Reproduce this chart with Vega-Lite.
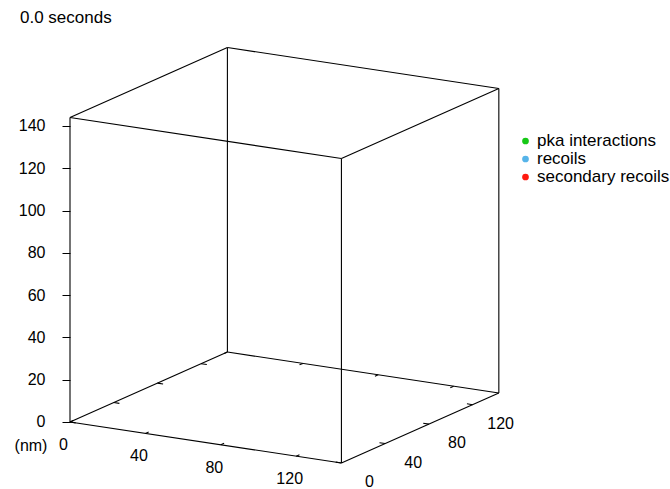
{
  "$schema": "https://vega.github.io/schema/vega-lite/v6.json",
  "width": 600,
  "height": 459,
  "autosize": {"type": "none"},
  "padding": {"left": 70, "top": 30, "right": 0, "bottom": 0},
  "background": "white",
  "title": {
    "text": "0.0 seconds",
    "anchor": "start",
    "frame": "group",
    "dx": -50,
    "dy": 17,
    "offset": 7,
    "baseline": "alphabetic",
    "fontSize": 17,
    "fontWeight": "normal",
    "font": "Liberation Sans",
    "color": "black"
  },
  "datasets": {
    "segments": [
      {"x1": 0, "y1": 0, "z1": 0, "x2": 144, "y2": 0, "z2": 0},
      {"x1": 144, "y1": 0, "z1": 0, "x2": 144, "y2": 144, "z2": 0},
      {"x1": 144, "y1": 144, "z1": 0, "x2": 0, "y2": 144, "z2": 0},
      {"x1": 0, "y1": 144, "z1": 0, "x2": 0, "y2": 0, "z2": 0},
      {"x1": 0, "y1": 0, "z1": 144, "x2": 144, "y2": 0, "z2": 144},
      {"x1": 144, "y1": 0, "z1": 144, "x2": 144, "y2": 144, "z2": 144},
      {"x1": 144, "y1": 144, "z1": 144, "x2": 0, "y2": 144, "z2": 144},
      {"x1": 0, "y1": 144, "z1": 144, "x2": 0, "y2": 0, "z2": 144},
      {"x1": 0, "y1": 0, "z1": 0, "x2": 0, "y2": 0, "z2": 144},
      {"x1": 144, "y1": 0, "z1": 0, "x2": 144, "y2": 0, "z2": 144},
      {"x1": 144, "y1": 144, "z1": 0, "x2": 144, "y2": 144, "z2": 144},
      {"x1": 0, "y1": 144, "z1": 0, "x2": 0, "y2": 144, "z2": 144},
      {"x1": 0, "y1": 0, "z1": 0, "x2": 0, "y2": 3, "z2": 0},
      {"x1": 40, "y1": 0, "z1": 0, "x2": 40, "y2": 3, "z2": 0},
      {"x1": 80, "y1": 0, "z1": 0, "x2": 80, "y2": 3, "z2": 0},
      {"x1": 120, "y1": 0, "z1": 0, "x2": 120, "y2": 3, "z2": 0},
      {"x1": 0, "y1": 144, "z1": 0, "x2": 0, "y2": 141, "z2": 0},
      {"x1": 40, "y1": 144, "z1": 0, "x2": 40, "y2": 141, "z2": 0},
      {"x1": 80, "y1": 144, "z1": 0, "x2": 80, "y2": 141, "z2": 0},
      {"x1": 120, "y1": 144, "z1": 0, "x2": 120, "y2": 141, "z2": 0},
      {"x1": 0, "y1": 0, "z1": 0, "x2": 3, "y2": 0, "z2": 0},
      {"x1": 0, "y1": 40, "z1": 0, "x2": 3, "y2": 40, "z2": 0},
      {"x1": 0, "y1": 80, "z1": 0, "x2": 3, "y2": 80, "z2": 0},
      {"x1": 0, "y1": 120, "z1": 0, "x2": 3, "y2": 120, "z2": 0},
      {"x1": 144, "y1": 0, "z1": 0, "x2": 141, "y2": 0, "z2": 0},
      {"x1": 144, "y1": 40, "z1": 0, "x2": 141, "y2": 40, "z2": 0},
      {"x1": 144, "y1": 80, "z1": 0, "x2": 141, "y2": 80, "z2": 0},
      {"x1": 144, "y1": 120, "z1": 0, "x2": 141, "y2": 120, "z2": 0}
    ],
    "xlabels": [
      {"x": 0, "y": 0, "z": 0, "label": "0"},
      {"x": 40, "y": 0, "z": 0, "label": "40"},
      {"x": 80, "y": 0, "z": 0, "label": "80"},
      {"x": 120, "y": 0, "z": 0, "label": "120"}
    ],
    "ylabels": [
      {"x": 144, "y": 0, "z": 0, "label": "0"},
      {"x": 144, "y": 40, "z": 0, "label": "40"},
      {"x": 144, "y": 80, "z": 0, "label": "80"},
      {"x": 144, "y": 120, "z": 0, "label": "120"}
    ],
    "unit": [
      {"x": 0, "y": 0, "z": 0, "label": "(nm)"}
    ],
    "events": []
  },
  "layer": [
    {
      "data": {"name": "segments"},
      "transform": [
        {"calculate": "0.8915*datum.x1 + 0.5170*datum.y1", "as": "h1"},
        {"calculate": "datum.z1 - 0.13466*datum.x1 + 0.22986*datum.y1", "as": "v1"},
        {"calculate": "0.8915*datum.x2 + 0.5170*datum.y2", "as": "h2"},
        {"calculate": "datum.z2 - 0.13466*datum.x2 + 0.22986*datum.y2", "as": "v2"}
      ],
      "mark": {"type": "rule", "color": "black", "strokeWidth": 1.1},
      "encoding": {
        "x": {"field": "h1", "type": "quantitative", "scale": {"domain": [0, 283.78], "nice": false, "zero": false}, "axis": null},
        "y": {
          "field": "v1",
          "type": "quantitative",
          "scale": {"domain": [-31.69, 185.40], "nice": false, "zero": false},
          "axis": {
            "values": [0, 20, 40, 60, 80, 100, 120, 140],
            "title": null,
            "domain": false,
            "grid": false,
            "tickSize": 8,
            "tickColor": "black",
            "tickWidth": 1,
            "labelPadding": 17,
            "labelFontSize": 16,
            "labelFont": "Liberation Sans",
            "labelColor": "black"
          }
        },
        "x2": {"field": "h2"},
        "y2": {"field": "v2"}
      }
    },
    {
      "data": {"name": "xlabels"},
      "transform": [
        {"calculate": "0.8915*datum.x + 0.5170*datum.y", "as": "h1"},
        {"calculate": "datum.z - 0.13466*datum.x + 0.22986*datum.y", "as": "v1"}
      ],
      "mark": {"type": "text", "dx": -6.5, "dy": 23, "fontSize": 16, "font": "Liberation Sans", "color": "black", "align": "center", "baseline": "middle"},
      "encoding": {
        "x": {"field": "h1", "type": "quantitative"},
        "y": {"field": "v1", "type": "quantitative"},
        "text": {"field": "label"}
      }
    },
    {
      "data": {"name": "ylabels"},
      "transform": [
        {"calculate": "0.8915*datum.x + 0.5170*datum.y", "as": "h1"},
        {"calculate": "datum.z - 0.13466*datum.x + 0.22986*datum.y", "as": "v1"}
      ],
      "mark": {"type": "text", "dx": 28, "dy": 19, "fontSize": 16, "font": "Liberation Sans", "color": "black", "align": "center", "baseline": "middle"},
      "encoding": {
        "x": {"field": "h1", "type": "quantitative"},
        "y": {"field": "v1", "type": "quantitative"},
        "text": {"field": "label"}
      }
    },
    {
      "data": {"name": "unit"},
      "transform": [
        {"calculate": "0.8915*datum.x + 0.5170*datum.y", "as": "h1"},
        {"calculate": "datum.z - 0.13466*datum.x + 0.22986*datum.y", "as": "v1"}
      ],
      "mark": {"type": "text", "dx": -39, "dy": 24, "fontSize": 16, "font": "Liberation Sans", "color": "black", "align": "center", "baseline": "middle"},
      "encoding": {
        "x": {"field": "h1", "type": "quantitative"},
        "y": {"field": "v1", "type": "quantitative"},
        "text": {"field": "label"}
      }
    },
    {
      "data": {"name": "events"},
      "mark": {"type": "point", "filled": true},
      "encoding": {
        "color": {
          "field": "series",
          "type": "nominal",
          "scale": {
            "domain": ["pka interactions", "recoils", "secondary recoils"],
            "range": ["#16c816", "#56b4e9", "#ff1a10"]
          },
          "legend": {
            "orient": "none",
            "legendX": 447,
            "legendY": 102.5,
            "title": null,
            "padding": 0,
            "symbolType": "circle",
            "symbolSize": 45,
            "symbolStrokeWidth": 0,
            "symbolOpacity": 1,
            "labelFontSize": 17,
            "labelFont": "Liberation Sans",
            "labelColor": "black",
            "labelOffset": 3,
            "rowPadding": 0
          }
        }
      }
    }
  ],
  "config": {
    "view": {"stroke": null},
    "font": "Liberation Sans"
  }
}
